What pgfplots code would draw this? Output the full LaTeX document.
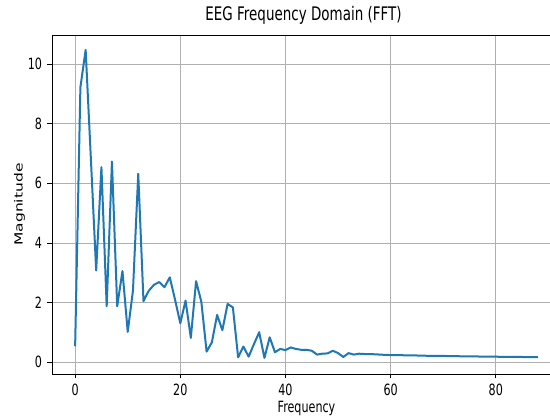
\documentclass[border=0pt]{standalone}
\usepackage{pgfplots}
\pgfplotsset{compat=1.18}
\usepackage{fontspec}
\setmainfont{DejaVu Sans}[FakeStretch=0.72]
\newfontfamily\uprightlabel{DejaVu Sans}
\definecolor{fftblue}{HTML}{1F77B4}
\definecolor{gridgray}{HTML}{B0B0B0}

\begin{document}
\begin{tikzpicture}
\clip (0pt,0pt) rectangle (550pt,420pt);
\path[fill=white] (0pt,0pt) rectangle (550pt,420pt);
\begin{axis}[
  at={(52pt,46pt)}, anchor=south west,
  width=509pt, height=339pt, scale only axis,
  xmin=-4.4, xmax=92.4, ymin=-0.39, ymax=10.97,
  xtick={0,20,40,60,80}, ytick={0,2,4,6,8,10},
  xtick pos=bottom, ytick pos=left,
  tick align=outside, major tick length=4.5pt,
  tick style={black, line width=0.8pt},
  axis line style={line width=0.8pt},
  grid=major, grid style={color=gridgray, line width=0.8pt},
  /pgf/number format/assume math mode=true,
  tick label style={font=\fontsize{15.5}{15.5}\selectfont},
  xticklabel style={yshift=-2pt},
  yticklabel style={xshift=-2pt},
  title={EEG Frequency Domain (FFT)},
  title style={font=\fontsize{18.7}{19}\selectfont, yshift=1pt, xshift=-3pt},
  xlabel={Frequency},
  ylabel={\scalebox{1}[0.72]{\uprightlabel Magnitude}},
  label style={font=\fontsize{15.5}{15.5}\selectfont},
  xlabel style={yshift=1pt},
  ylabel style={yshift=-4pt},
]
\addplot[color=fftblue, line width=2pt, line join=round] table {
x y
0 0.54
1 9.22
2 10.47
3 6.80
4 3.08
5 6.54
6 1.88
7 6.73
8 1.88
9 3.06
10 1.02
11 2.41
12 6.32
13 2.05
14 2.40
15 2.60
16 2.69
17 2.52
18 2.85
19 2.10
20 1.31
21 2.07
22 0.82
23 2.72
24 2.03
25 0.36
26 0.67
27 1.59
28 1.08
29 1.96
30 1.84
31 0.17
32 0.53
33 0.19
34 0.61
35 1.01
36 0.15
37 0.84
38 0.34
39 0.45
40 0.41
41 0.50
42 0.45
43 0.42
44 0.42
45 0.39
46 0.26
47 0.29
48 0.30
49 0.39
50 0.31
51 0.18
52 0.31
53 0.26
54 0.29
55 0.28
56 0.28
57 0.27
58 0.26
59 0.25
60 0.245
61 0.24
62 0.24
63 0.235
64 0.235
65 0.23
66 0.225
67 0.22
68 0.22
69 0.22
70 0.215
71 0.21
72 0.21
73 0.205
74 0.20
75 0.20
76 0.20
77 0.195
78 0.195
79 0.19
80 0.19
81 0.185
82 0.185
83 0.18
84 0.18
85 0.18
86 0.175
87 0.175
88 0.175
};
\end{axis}
\end{tikzpicture}
\end{document}
